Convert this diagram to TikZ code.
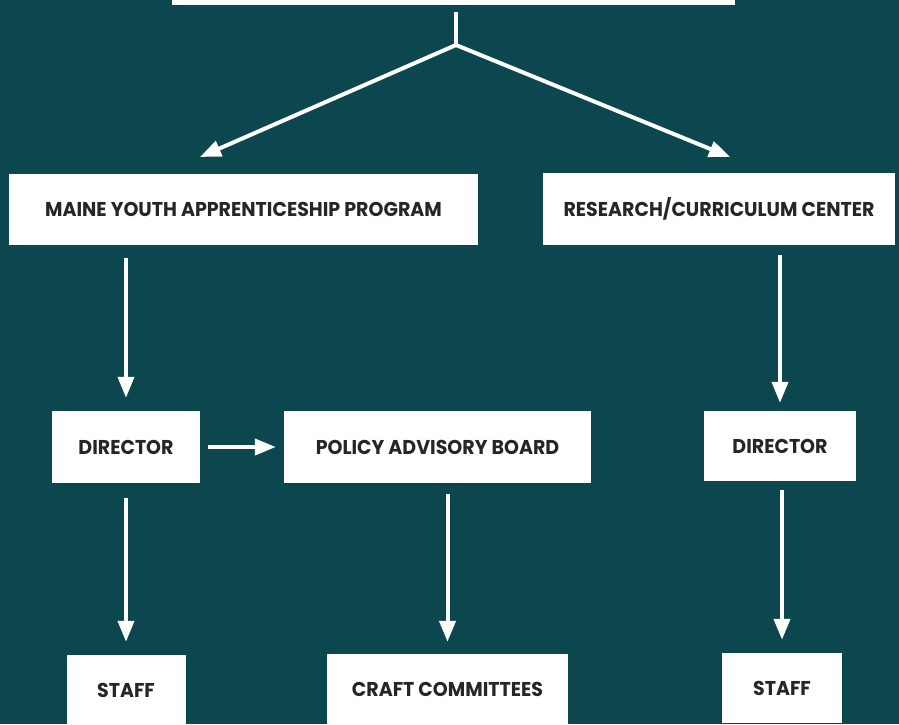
\documentclass[tikz,border=0pt]{standalone}
\usepackage{fontspec}
\setsansfont{Poppins}[FakeStretch=0.95]
\usetikzlibrary{arrows.meta}
\definecolor{teal}{RGB}{12,71,80}
\definecolor{ink}{RGB}{38,38,38}
\begin{document}
\begin{tikzpicture}[x=1pt,y=-1pt]
    \tikzstyle{box}=[fill=white,inner sep=0pt,text=ink,font=\sffamily\bfseries\fontsize{20}{21}\selectfont]
    \tikzstyle{arr}=[draw=white,line width=4pt,-{Triangle[width=16pt,length=21pt]}]
    \useasboundingbox (0,0) rectangle (899,724);
    \clip (0,0) rectangle (899,724);
    \fill[teal] (0,0) rectangle (899,724);
    \draw node[box,minimum width=563pt,minimum height=45pt](top)at(453.5,-17.5){}
          node[box,minimum width=469pt,minimum height=71pt](myap)at(243.5,209.5){MAINE YOUTH APPRENTICESHIP PROGRAM}
          node[box,minimum width=352pt,minimum height=72pt](rcc)at(719,209){RESEARCH/CURRICULUM CENTER}
          node[box,minimum width=148pt,minimum height=72pt](dirl)at(126,447){DIRECTOR}
          node[box,minimum width=307pt,minimum height=72pt](pab)at(437.5,447){POLICY ADVISORY BOARD}
          node[box,minimum width=152pt,minimum height=70pt](dirr)at(780,446){DIRECTOR}
          node[box,minimum width=119pt,minimum height=70pt](staffl)at(126,690){STAFF}
          node[box,minimum width=241pt,minimum height=70pt](craft)at(447.5,689){CRAFT COMMITTEES}
          node[box,minimum width=120pt,minimum height=70pt](staffr)at(782,688){STAFF};
    \coordinate (fork) at (456,45);
    \coordinate (lefttip) at (200,157);
    \coordinate (righttip) at (730,157);
    \draw[draw=white,line width=4pt] (fork |- top.south)++(0,7) -- (fork);
    \draw[arr] (fork) -- (lefttip);
    \draw[arr] (fork) -- (righttip);
    \draw[arr,shorten <=13pt,shorten >=13pt] (myap.south -| dirl.north) -- (dirl.north);
    \draw[arr,shorten <=10pt,shorten >=8pt] (rcc.south -| dirr.north) -- (dirr.north);
    \draw[arr,shorten <=8pt,shorten >=8pt] (dirl) -- (pab);
    \draw[arr,shorten <=15pt,shorten >=13pt] (dirl.south) -- (staffl.north);
    \draw[arr,shorten <=11pt,shorten >=12pt] (pab.south -| craft.north) -- (craft.north);
    \draw[arr,shorten <=9pt,shorten >=13pt] (dirr.south -| staffr.north) -- (staffr.north);
\end{tikzpicture}
\end{document}
